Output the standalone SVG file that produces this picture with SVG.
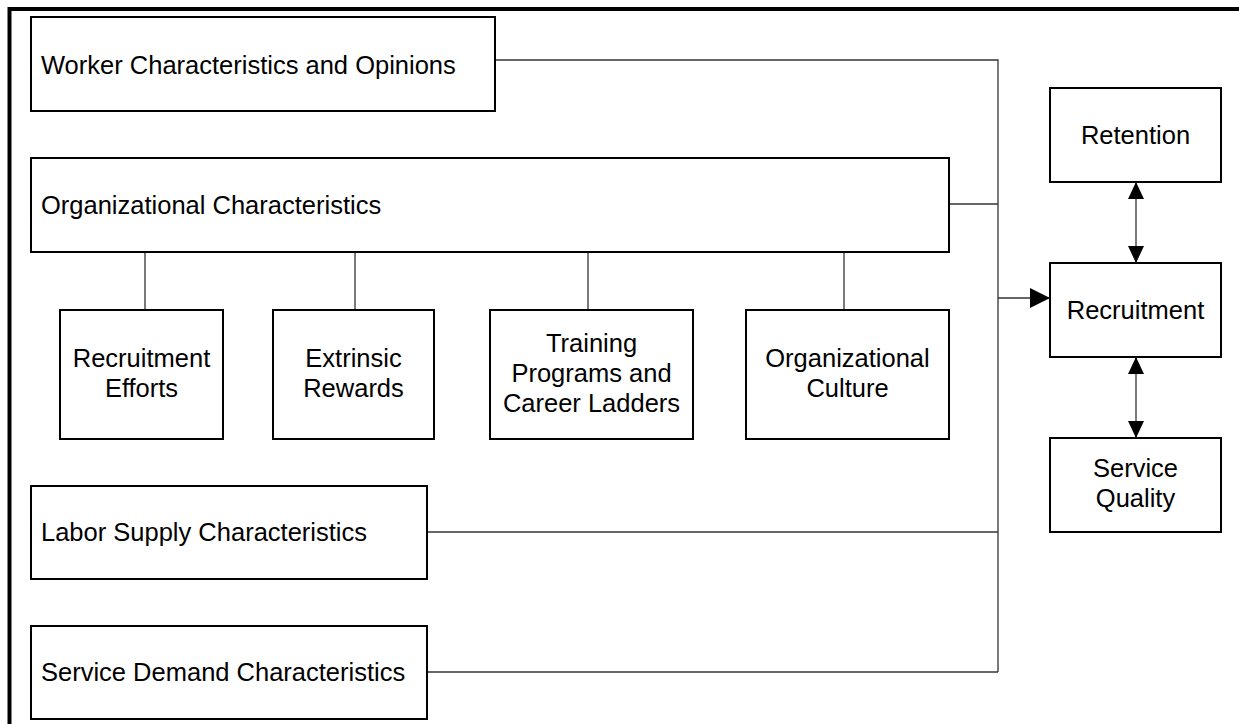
<svg xmlns="http://www.w3.org/2000/svg" width="1239" height="724" viewBox="0 0 1239 724">
<style>
.box{fill:#fff;stroke:#000;stroke-width:2}
.t{font-family:"Liberation Sans",Arial,sans-serif;font-size:25.5px;fill:#000}
.c{text-anchor:middle}
.ln{fill:none;stroke:#333;stroke-width:1.3}
.frame{fill:none;stroke:#000;stroke-width:4}
</style>
<defs>
<marker id="ah" viewBox="0 0 20 20" refX="20" refY="10" markerWidth="20" markerHeight="20" markerUnits="userSpaceOnUse" orient="auto-start-reverse">
<path d="M0,0 L20,10 L0,20 Z" fill="#000"/>
</marker>
<marker id="ah2" viewBox="0 0 17 16" refX="17" refY="8" markerWidth="17" markerHeight="16" markerUnits="userSpaceOnUse" orient="auto-start-reverse">
<path d="M0,0 L17,8 L0,16 Z" fill="#000"/>
</marker>
</defs>
<rect x="0" y="0" width="1239" height="724" fill="#fff"/>
<path class="frame" d="M9.5,724 V9 H1239"/>
<g id="connectors">
<path class="ln" d="M495,60 H998 V672"/>
<path class="ln" d="M949,204 H998"/>
<path class="ln" d="M427,532 H998"/>
<path class="ln" d="M427,672 H998"/>
<path class="ln" d="M145,252 V310"/>
<path class="ln" d="M355,252 V310"/>
<path class="ln" d="M588,252 V310"/>
<path class="ln" d="M844,252 V310"/>
<path class="ln" d="M998,298 H1050" marker-end="url(#ah)"/>
<path class="ln" d="M1136,182 V263" marker-start="url(#ah2)" marker-end="url(#ah2)"/>
<path class="ln" d="M1136,357 V438" marker-start="url(#ah2)" marker-end="url(#ah2)"/>
</g>
<g id="worker"><rect class="box" x="31" y="17" width="464" height="94"/><text class="t" x="41" y="74">Worker Characteristics and Opinions</text></g>
<g id="org"><rect class="box" x="31" y="158" width="918" height="94"/><text class="t" x="41" y="214">Organizational Characteristics</text></g>
<g id="recruit-efforts"><rect class="box" x="60" y="310" width="163" height="129"/><text class="t c" x="141.5" y="367">Recruitment</text><text class="t c" x="141.5" y="397">Efforts</text></g>
<g id="extrinsic"><rect class="box" x="273" y="310" width="161" height="129"/><text class="t c" x="353.5" y="367">Extrinsic</text><text class="t c" x="353.5" y="397">Rewards</text></g>
<g id="training"><rect class="box" x="490" y="310" width="203" height="129"/><text class="t c" x="591.5" y="352">Training</text><text class="t c" x="591.5" y="382">Programs and</text><text class="t c" x="591.5" y="412">Career Ladders</text></g>
<g id="culture"><rect class="box" x="746" y="310" width="203" height="129"/><text class="t c" x="847.5" y="367">Organizational</text><text class="t c" x="847.5" y="397">Culture</text></g>
<g id="labor"><rect class="box" x="31" y="486" width="396" height="93"/><text class="t" x="41" y="541">Labor Supply Characteristics</text></g>
<g id="demand"><rect class="box" x="31" y="626" width="396" height="93"/><text class="t" x="41" y="681">Service Demand Characteristics</text></g>
<g id="retention"><rect class="box" x="1050" y="88" width="171" height="94"/><text class="t c" x="1135.5" y="144">Retention</text></g>
<g id="recruitment"><rect class="box" x="1050" y="263" width="171" height="94"/><text class="t c" x="1135.5" y="319">Recruitment</text></g>
<g id="quality"><rect class="box" x="1050" y="438" width="171" height="94"/><text class="t c" x="1135.5" y="477">Service</text><text class="t c" x="1135.5" y="507">Quality</text></g>
</svg>
